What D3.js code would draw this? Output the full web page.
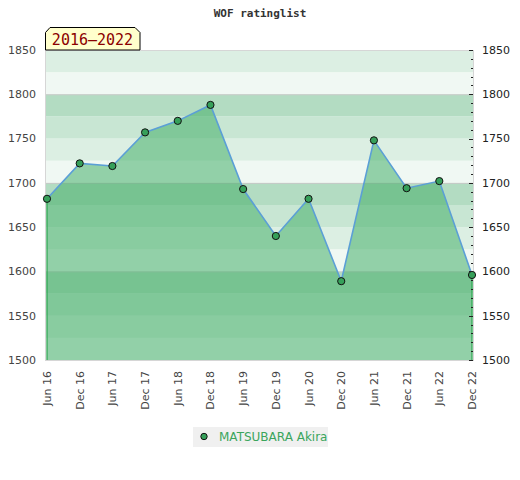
<!DOCTYPE html>
<html>
<head>
<meta charset="utf-8">
<script src="https://cdn.jsdelivr.net/npm/d3@7"></script>
<style>
  body { margin: 0; background: #fff; }
  svg text { font-family: "DejaVu Sans", Verdana, sans-serif; }
</style>
</head>
<body>
<svg id="chart" width="520" height="480"></svg>
<script>
// Rating history, one value per half year
const periods = ["Jun 16", "Dec 16", "Jun 17", "Dec 17", "Jun 18", "Dec 18", "Jun 19",
                 "Dec 19", "Jun 20", "Dec 20", "Jun 21", "Dec 21", "Jun 22", "Dec 22"];
const ratings = [1682, 1722, 1719, 1757, 1770, 1788, 1693,
                 1640, 1682, 1589, 1748, 1694, 1702, 1596];
const yTicks = [1500, 1550, 1600, 1650, 1700, 1750, 1800, 1850];
const bandStarts = d3.range(1500, 1850, 25);
const bandColors = ["#b3dcc2", "#c8e6d3", "#dcefe3", "#f0f8f3"]; // top of each hundred going down
const playerName = "MATSUBARA Akira";
const rangeLabel = "2016\u20132022";
const title = "WOF ratinglist";

var svg = d3.select("#chart");
var margin = { top: 50, right: 46, bottom: 120, left: 45 },
    width = 520 - margin.left - margin.right,
    height = 480 - margin.top - margin.bottom;

var xScale = d3.scalePoint()
    .domain(periods)
    .range([margin.left + 2, margin.left + width - 2]);

var yScale = d3.scaleLinear()
    .domain([1500, 1850])
    .range([margin.top + height, margin.top]);

// Striped background bands
svg.append("g").selectAll("rect")
    .data(bandStarts)
    .enter().append("rect")
    .attr("x", margin.left)
    .attr("width", width)
    .attr("y", d => yScale(d + 25))
    .attr("height", d => yScale(d) - yScale(d + 25))
    .attr("fill", d => bandColors[3 - ((d - 1500) / 25) % 4]);

// Grid lines at each hundred
svg.append("g").selectAll("line")
    .data([1600, 1700, 1800])
    .enter().append("line")
    .attr("x1", margin.left).attr("x2", margin.left + width)
    .attr("y1", d => yScale(d) + 0.5).attr("y2", d => yScale(d) + 0.5)
    .attr("stroke", "#c8c8c8");

// Area under the line
var area = d3.area()
    .x((d, i) => xScale(periods[i]))
    .y0(yScale(1500))
    .y1(d => yScale(d));

svg.append("path")
    .datum(ratings)
    .attr("d", area)
    .attr("fill", "rgb(70,175,105)")
    .attr("fill-opacity", 0.55);

// Green edges of the area
[0, ratings.length - 1].forEach(function (i) {
    svg.append("line")
        .attr("x1", xScale(periods[i])).attr("x2", xScale(periods[i]))
        .attr("y1", yScale(ratings[i])).attr("y2", yScale(1500))
        .attr("stroke", "#2ca54f")
        .attr("stroke-width", 1.2);
});

// Plot border
svg.append("rect")
    .attr("x", margin.left + 0.5).attr("y", margin.top + 0.5)
    .attr("width", width - 1).attr("height", height)
    .attr("fill", "none")
    .attr("stroke", "#d6d6d6");

// The rating line
var valueline = d3.line()
    .x((d, i) => xScale(periods[i]))
    .y(d => yScale(d));

svg.append("path")
    .datum(ratings)
    .attr("d", valueline)
    .attr("fill", "none")
    .attr("stroke", "#5b9fd6")
    .attr("stroke-width", 1.6);

svg.append("g").selectAll("circle")
    .data(ratings)
    .enter().append("circle")
    .attr("cx", (d, i) => xScale(periods[i]))
    .attr("cy", d => yScale(d))
    .attr("r", 3.6)
    .attr("fill", "#36a05a")
    .attr("stroke", "#111")
    .attr("stroke-width", 1);

// Left axis labels
svg.append("g").selectAll("text")
    .data(yTicks)
    .enter().append("text")
    .attr("x", 36)
    .attr("y", d => yScale(d))
    .attr("dy", "0.35em")
    .attr("text-anchor", "end")
    .style("font-size", "11px")
    .attr("fill", "#444")
    .text(d => d);

// Right axis: ticks inside the plot, labels outside
var rightX = margin.left + width;
svg.append("g").selectAll("line")
    .data(d3.range(1500, 1851, 10))
    .enter().append("line")
    .attr("x1", d => rightX - (d % 50 == 0 ? 5 : 3))
    .attr("x2", rightX - 1)
    .attr("y1", d => Math.round(yScale(d)) + 0.5)
    .attr("y2", d => Math.round(yScale(d)) + 0.5)
    .attr("stroke", "#222");

svg.append("g").selectAll("text")
    .data(yTicks)
    .enter().append("text")
    .attr("x", rightX + 8)
    .attr("y", d => yScale(d))
    .attr("dy", "0.35em")
    .style("font-size", "11px")
    .attr("fill", "#222")
    .text(d => d);

// X axis labels, rotated
svg.append("g").selectAll("text")
    .data(periods)
    .enter().append("text")
    .attr("transform", d => `translate(${xScale(d) + 4}, ${margin.top + height + 11}) rotate(-90)`)
    .attr("text-anchor", "end")
    .style("font-size", "11px")
    .attr("fill", "#444")
    .text(d => d);

// Title
svg.append("text")
    .attr("x", 260)
    .attr("y", 17)
    .attr("text-anchor", "middle")
    .style("font-family", "'DejaVu Sans Mono', monospace")
    .style("font-size", "11px")
    .style("font-weight", "bold")
    .attr("fill", "#333")
    .text(title);

// Year range tab
var tabL = margin.left, tabR = 140, tabT = 27.5, tabB = margin.top, cut = 5;
svg.append("path")
    .attr("d", `M${tabL + 0.5},${tabB} L${tabL + 0.5},${tabT + cut} L${tabL + cut},${tabT} L${tabR - cut},${tabT} L${tabR},${tabT + cut} L${tabR},${tabB} Z`)
    .attr("fill", "#ffffcc")
    .attr("stroke", "#000");

svg.append("text")
    .attr("x", (tabL + tabR) / 2)
    .attr("y", 45)
    .attr("text-anchor", "middle")
    .style("font-family", "'DejaVu Sans Mono', monospace")
    .style("font-size", "15px")
    .attr("fill", "#8b0000")
    .text(rangeLabel);

// Legend
svg.append("rect")
    .attr("x", 193).attr("y", 427)
    .attr("width", 135).attr("height", 20)
    .attr("fill", "#f0f0f0");

svg.append("circle")
    .attr("cx", 204).attr("cy", 436.5)
    .attr("r", 3.2)
    .attr("fill", "#36a05a")
    .attr("stroke", "#111");

svg.append("text")
    .attr("x", 219).attr("y", 437)
    .attr("dy", "0.35em")
    .style("font-size", "12px")
    .attr("fill", "#3aa55c")
    .text(playerName);
</script>
</body>
</html>
